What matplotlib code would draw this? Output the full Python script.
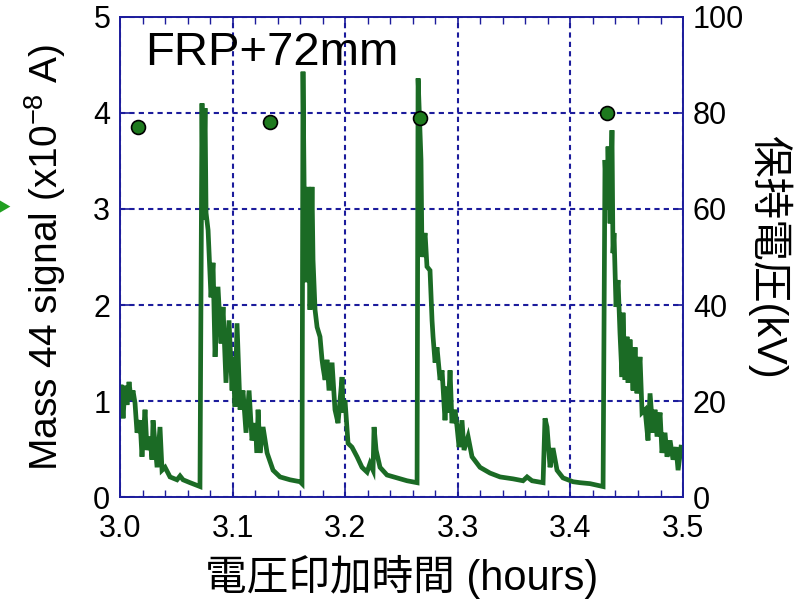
import matplotlib.pyplot as plt
from matplotlib.patches import Polygon

plt.rcParams['font.family'] = ['Liberation Sans', 'Noto Sans CJK JP', 'DejaVu Sans']

# Mass 44 signal trace (hours, x1e-8 A)
time_h = [
    3.0000, 3.0009, 3.0027, 3.0044, 3.0062, 3.0080, 3.0098, 3.0115, 3.0133, 3.0151,
    3.0178, 3.0195, 3.0222, 3.0240, 3.0266, 3.0284, 3.0293, 3.0329, 3.0355, 3.0373,
    3.0400, 3.0444, 3.0506, 3.0533, 3.0560, 3.0622, 3.0710,
    3.0728, 3.0737, 3.0755, 3.0764, 3.0782, 3.0808, 3.0826, 3.0844, 3.0870, 3.0897,
    3.0915, 3.0941, 3.0968, 3.0995, 3.1004, 3.1021, 3.1039, 3.1066, 3.1092, 3.1119,
    3.1146, 3.1172, 3.1199, 3.1217, 3.1226, 3.1243, 3.1270, 3.1306, 3.1359, 3.1421,
    3.1510, 3.1599,
    3.1616, 3.1625, 3.1643, 3.1661, 3.1670, 3.1687, 3.1705, 3.1714, 3.1732, 3.1750,
    3.1776, 3.1794, 3.1803, 3.1821, 3.1838, 3.1856, 3.1883, 3.1909, 3.1936, 3.1972,
    3.1980, 3.1998, 3.2025, 3.2060, 3.2105, 3.2149, 3.2194, 3.2220, 3.2247, 3.2256,
    3.2274, 3.2309, 3.2371, 3.2460, 3.2549, 3.2638,
    3.2647, 3.2673, 3.2682, 3.2709, 3.2726, 3.2753, 3.2771, 3.2780, 3.2798, 3.2815,
    3.2842, 3.2860, 3.2886, 3.2904, 3.2913, 3.2931, 3.2948, 3.2975, 3.2993, 3.3011,
    3.3037, 3.3055, 3.3091, 3.3126, 3.3197, 3.3286, 3.3375, 3.3490, 3.3579, 3.3615,
    3.3659, 3.3757, 3.3774, 3.3792, 3.3819, 3.3845, 3.3881, 3.3934, 3.4023, 3.4085,
    3.4174, 3.4290,
    3.4307, 3.4325, 3.4334, 3.4352, 3.4369, 3.4378, 3.4387, 3.4405, 3.4423, 3.4440,
    3.4458, 3.4467, 3.4485, 3.4503, 3.4512, 3.4529, 3.4556, 3.4574, 3.4591, 3.4618,
    3.4636, 3.4663, 3.4689, 3.4707, 3.4734, 3.4751, 3.4769, 3.4796, 3.4813, 3.4840,
    3.4858, 3.4885, 3.4911, 3.4938, 3.4956, 3.4982,
]
signal = [
    1.01, 1.17, 0.82, 1.16, 0.96, 1.20, 1.01, 1.11, 0.98, 0.67,
    0.80, 0.42, 0.91, 0.49, 0.63, 0.39, 0.80, 0.31, 0.73, 0.28,
    0.31, 0.21, 0.18, 0.22, 0.18, 0.15, 0.11,
    4.10, 2.89, 4.05, 2.96, 2.78, 2.08, 2.44, 1.46, 2.19, 1.60,
    1.98, 1.19, 1.84, 1.11, 1.46, 0.94, 1.81, 0.91, 1.11, 0.67,
    1.11, 0.59, 0.77, 0.46, 0.91, 0.46, 0.73, 0.46, 0.28, 0.21,
    0.18, 0.16,
    0.14, 4.43, 2.26, 2.26, 3.23, 1.95, 3.23, 2.47, 1.95, 1.77,
    1.67, 1.43, 1.35, 1.22, 1.43, 1.11, 1.40, 0.91, 0.77, 1.25,
    0.88, 1.01, 0.56, 0.52, 0.42, 0.31, 0.26, 0.35, 0.28, 0.73,
    0.49, 0.31, 0.23, 0.20, 0.17, 0.15,
    4.36, 3.51, 2.50, 2.75, 2.40, 2.36, 1.84, 1.67, 1.40, 1.56,
    1.22, 1.32, 0.80, 1.15, 0.88, 1.32, 0.77, 0.91, 0.73, 0.52,
    0.80, 0.49, 0.63, 0.42, 0.31, 0.25, 0.21, 0.19, 0.17, 0.21,
    0.17, 0.15, 0.82, 0.73, 0.31, 0.51, 0.28, 0.20, 0.16, 0.15,
    0.14, 0.11,
    3.51, 2.99, 3.65, 2.85, 3.82, 2.54, 2.75, 1.98, 2.26, 1.71,
    1.25, 1.92, 1.22, 1.67, 1.19, 1.64, 1.11, 1.56, 1.08, 1.46,
    0.88, 0.91, 0.59, 1.08, 0.67, 0.91, 0.63, 0.88, 0.46, 0.67,
    0.42, 0.59, 0.39, 0.52, 0.28, 0.52,
]

# holding voltage points (hours, kV)
volt_time = [3.016, 3.133, 3.266, 3.4325]
volt_kv = [77.1, 78.1, 79.0, 80.0]

x_ticks = [3.0, 3.1, 3.2, 3.3, 3.4, 3.5]
left_ticks = [0, 1, 2, 3, 4, 5]
right_ticks = [0, 20, 40, 60, 80, 100]

navy = '#1c1c9c'
green = '#1b6b25'

fig = plt.figure(figsize=(7.97, 6.04), dpi=100)
ax = fig.add_axes([0.1506, 0.177, 0.7064, 0.795])
ax2 = ax.twinx()

ax.plot(time_h, signal, color=green, lw=3.4, solid_joinstyle='miter', zorder=3)
ax2.plot(volt_time, volt_kv, 'o', ms=10, mfc='#1e7a1e', mec='black', mew=1.2, zorder=5)

ax.set_xlim(3.0, 3.5)
ax.set_ylim(0, 5)
ax2.set_ylim(0, 100)
ax.set_xticks(x_ticks)
ax.set_xticklabels(['%.1f' % t for t in x_ticks])
ax.set_xticks([3.0 + 0.02 * i for i in range(26)], minor=True)
ax.set_yticks(left_ticks)
ax2.set_yticks(right_ticks)

ax.grid(True, color=navy, lw=1.5, linestyle=(0, (2.5, 2)))

for a in (ax, ax2):
    for s in a.spines.values():
        s.set_color(navy)
        s.set_linewidth(1.2)

ax.tick_params(axis='x', which='both', direction='in', top=True, color=navy,
               labelsize=22, pad=12)
ax.tick_params(axis='x', which='major', length=7, width=1.2)
ax.tick_params(axis='x', which='minor', length=5, width=1.0)
ax.tick_params(axis='y', direction='in', length=7, width=1.2, color=navy,
               labelsize=22, pad=7)
ax2.tick_params(axis='y', direction='in', length=7, width=1.2, color=navy,
                labelsize=22, pad=7)

ax.set_xlabel('電圧印加時間 (hours)', fontsize=30, labelpad=8)
ax.set_ylabel('Mass 44 signal (x10$^{\\mathregular{-8}}$ A)', fontsize=28, labelpad=18)
ax2.set_ylabel('保持電圧(kV)', fontsize=30, rotation=270, labelpad=34)

ax.text(3.022, 4.62, 'FRP+72mm', fontsize=34, va='center', ha='left', zorder=6)

ax.set_zorder(ax2.get_zorder() - 1)
ax2.patch.set_visible(False)

# small green pointer at the left edge
fig.patches.append(Polygon([[0.0, 0.648], [0.0, 0.668], [0.013, 0.658]],
                           closed=True, transform=fig.transFigure,
                           color='#22a022', lw=0))

fig.savefig('out.png', dpi=100)
